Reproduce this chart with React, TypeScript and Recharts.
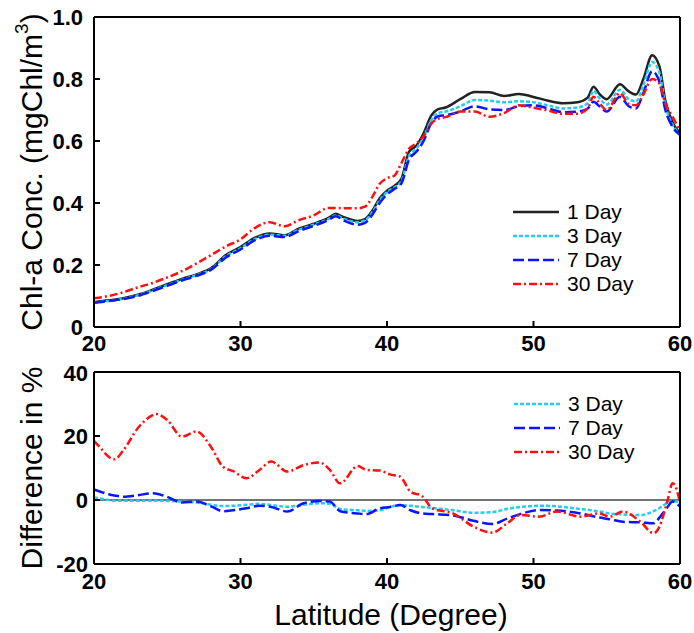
import { LineChart, Line, XAxis, YAxis, ReferenceLine, Legend } from 'recharts'

const FONT = '"Liberation Sans", Arial, Helvetica, sans-serif'

// top panel: chlorophyll concentration vs latitude
const concLat = [20, 21, 22, 23, 24, 25, 26, 27, 28, 29, 30, 31, 32, 33, 34, 35, 36, 36.5, 37, 38, 38.5, 39, 39.5, 40, 40.5, 41, 41.5, 42, 42.5, 43, 43.5, 44, 45, 46, 47, 48, 49, 50, 51, 52, 53, 53.7, 54.1, 54.5, 55, 55.9, 56.5, 57, 57.5, 58.1, 58.6, 59, 59.5, 60]
const conc1Day = [0.080, 0.086, 0.093, 0.104, 0.120, 0.138, 0.155, 0.170, 0.190, 0.232, 0.258, 0.288, 0.302, 0.296, 0.318, 0.333, 0.352, 0.365, 0.355, 0.342, 0.348, 0.375, 0.415, 0.440, 0.455, 0.480, 0.565, 0.585, 0.625, 0.680, 0.703, 0.708, 0.735, 0.758, 0.757, 0.745, 0.752, 0.742, 0.730, 0.722, 0.725, 0.740, 0.775, 0.752, 0.735, 0.783, 0.760, 0.750, 0.800, 0.877, 0.840, 0.730, 0.660, 0.625]
const conc3Day = [0.078, 0.084, 0.091, 0.102, 0.118, 0.135, 0.152, 0.167, 0.187, 0.228, 0.254, 0.284, 0.298, 0.294, 0.314, 0.330, 0.348, 0.360, 0.350, 0.338, 0.344, 0.370, 0.408, 0.435, 0.450, 0.472, 0.552, 0.575, 0.612, 0.665, 0.690, 0.695, 0.712, 0.732, 0.730, 0.725, 0.728, 0.725, 0.715, 0.705, 0.708, 0.722, 0.762, 0.738, 0.718, 0.765, 0.735, 0.728, 0.780, 0.855, 0.820, 0.715, 0.652, 0.620]
const conc7Day = [0.078, 0.084, 0.090, 0.100, 0.116, 0.133, 0.150, 0.165, 0.185, 0.224, 0.250, 0.280, 0.294, 0.290, 0.310, 0.326, 0.345, 0.357, 0.345, 0.330, 0.336, 0.362, 0.400, 0.428, 0.445, 0.465, 0.540, 0.565, 0.600, 0.655, 0.680, 0.683, 0.695, 0.712, 0.702, 0.700, 0.712, 0.715, 0.705, 0.693, 0.695, 0.705, 0.727, 0.712, 0.695, 0.743, 0.712, 0.705, 0.755, 0.825, 0.790, 0.700, 0.645, 0.620]
const conc30Day = [0.093, 0.100, 0.112, 0.128, 0.142, 0.160, 0.180, 0.205, 0.232, 0.260, 0.283, 0.320, 0.338, 0.325, 0.345, 0.360, 0.384, 0.384, 0.383, 0.383, 0.388, 0.420, 0.462, 0.480, 0.488, 0.530, 0.575, 0.592, 0.615, 0.655, 0.672, 0.677, 0.695, 0.695, 0.678, 0.690, 0.715, 0.707, 0.698, 0.688, 0.688, 0.705, 0.743, 0.722, 0.700, 0.754, 0.720, 0.715, 0.750, 0.800, 0.785, 0.720, 0.678, 0.632]

// bottom panel: difference from 1 Day in %
const diffLat = [20, 20.5, 21, 21.4, 22, 23, 24, 24.2, 25, 26, 27, 28, 28.8, 29.5, 30.4, 31.3, 32.1, 33.2, 34.3, 35.4, 36.1, 36.8, 38, 38.6, 39.5, 40.2, 40.9, 41.6, 42.4, 43.1, 44.5, 45.9, 47.2, 48.2, 49.1, 50.4, 51.6, 53.2, 54.5, 55.2, 56.1, 57.3, 58.2, 58.6, 59.1, 59.5, 59.7, 60]
const diff3Day = [0.8, 0.4, 0, -0.2, -0.2, -0.2, -0.2, -0.2, -0.3, -0.5, -0.8, -1.5, -1.9, -1.8, -1.5, -1.2, -1.6, -2.1, -1.5, -1.0, -1.2, -2.8, -3.2, -3.4, -3.2, -2.2, -1.6, -1.8, -2.2, -2.5, -3.2, -4.0, -3.8, -2.8, -2.2, -1.8, -2.0, -2.8, -3.6, -4.2, -4.5, -4.7, -3.5, -2.5, -1.0, -0.5, -0.5, -0.5]
const diff7Day = [3.3, 2.5, 1.8, 1.4, 1.0, 1.5, 2.1, 2.0, 1.0, -0.8, -0.5, -2.0, -3.5, -3.2, -2.6, -1.8, -2.2, -3.6, -1.0, -0.3, -0.5, -3.5, -4.2, -4.4, -2.6, -2.2, -1.6, -3.2, -4.2, -4.4, -4.8, -6.5, -7.5, -5.8, -4.4, -3.1, -3.3, -4.2, -5.5, -6.0, -6.8, -7.0, -7.3, -5.5, -2.5, -0.5, -0.8, -2.1]
const diff30Day = [18.5, 16, 13.5, 12.7, 15.5, 22.5, 26.5, 26.9, 25, 19.8, 21.4, 16.5, 10.4, 9.0, 6.8, 9.4, 12, 8.9, 10.9, 11.7, 9.4, 5.2, 10.6, 9.4, 9.2, 8.0, 7.3, 2.6, 1.2, -2.6, -4.2, -8.3, -10.2, -7.3, -4.7, -5.2, -3.6, -5.2, -4.2, -5.2, -3.6, -6.8, -10.4, -8.3, -1.0, 5.2, 4.2, -1.0]

const latTicks = [20, 30, 40, 50, 60]
const concTicks = [0, 0.2, 0.4, 0.6, 0.8, 1.0]
const diffTicks = [-20, 0, 20, 40]

const SERIES: Record<string, { name: string; color: string; dash?: string }> = {
  d1: { name: '1 Day', color: '#222222' },
  d3: { name: '3 Day', color: '#22CCF2', dash: '4 2' },
  d7: { name: '7 Day', color: '#0A14FF', dash: '11 4' },
  d30: { name: '30 Day', color: '#FF1010', dash: '8 3 2 3' },
}

const concData = concLat.map((lat, i) => ({ lat, d1: conc1Day[i], d3: conc3Day[i], d7: conc7Day[i], d30: conc30Day[i] }))
const diffData = diffLat.map((lat, i) => ({ lat, d3: diff3Day[i], d7: diff7Day[i], d30: diff30Day[i] }))

const frame = { stroke: '#000', strokeWidth: 2 }
const tickFont = { fontSize: 22, fill: '#000', fontFamily: FONT, fontWeight: 'bold' as const }

function LegendBox({ keys }: { keys: string[] }) {
  return (
    <div style={{ fontFamily: FONT, fontSize: 21, color: '#000' }}>
      {keys.map((k) => (
        <div key={k} style={{ display: 'flex', alignItems: 'center', height: 24 }}>
          <svg width={46} height={22} style={{ marginRight: 8 }}>
            <line x1={0} x2={46} y1={11} y2={11} stroke={SERIES[k].color} strokeWidth={2.5} strokeDasharray={SERIES[k].dash} />
          </svg>
          <span style={{ lineHeight: '22px' }}>{SERIES[k].name}</span>
        </div>
      ))}
    </div>
  )
}

function series(keys: string[]) {
  return keys.map((k) => (
    <Line
      key={k}
      type="monotone"
      dataKey={k}
      name={SERIES[k].name}
      stroke={SERIES[k].color}
      strokeWidth={2.5}
      strokeDasharray={SERIES[k].dash}
      dot={false}
      isAnimationActive={false}
    />
  ))
}

export default function App() {
  return (
    <div style={{ position: 'absolute', left: 0, top: 0, width: 694, height: 633, background: '#fff' }}>
      <div style={{ position: 'absolute', left: 0, top: 0 }}>
        <LineChart width={694} height={360} data={concData} margin={{ top: 0, right: 0, bottom: 0, left: 0 }}>
          <XAxis dataKey="lat" type="number" domain={[20, 60]} ticks={latTicks} height={33} tick={tickFont} tickSize={-6} tickMargin={14} axisLine={frame} tickLine={frame} />
          <XAxis xAxisId="top" orientation="top" dataKey="lat" type="number" domain={[20, 60]} ticks={latTicks} height={17} tick={false} tickSize={-6} axisLine={frame} tickLine={frame} />
          <YAxis
            domain={[0, 1]}
            ticks={concTicks}
            width={94}
            tick={tickFont}
            tickSize={-6}
            tickMargin={17}
            tickFormatter={(v: number) => (v === 0 ? '0' : v.toFixed(1))}
            axisLine={frame}
            tickLine={frame}
            label={{
              content: () => (
                <text x={31} y={172} transform="rotate(-90 31 172)" textAnchor="middle" dominantBaseline="central" fontFamily={FONT} fontSize={30} fill="#000">
                  Chl-a Conc. (mgChl/m<tspan dy={-10} fontSize={19}>3</tspan><tspan dy={10}>)</tspan>
                </text>
              ),
            }}
          />
          <YAxis yAxisId="r" orientation="right" domain={[0, 1]} ticks={concTicks} width={14} tick={false} tickSize={-6} axisLine={frame} tickLine={frame} />
          {series(['d1', 'd3', 'd7', 'd30'])}
          <Legend
            layout="vertical"
            verticalAlign="middle"
            align="center"
            content={() => <LegendBox keys={['d1', 'd3', 'd7', 'd30']} />}
            wrapperStyle={{ position: 'absolute', left: 513, top: 200, width: 'auto' }}
          />
        </LineChart>
      </div>
      <div style={{ position: 'absolute', left: 0, top: 360 }}>
        <LineChart width={694} height={273} data={diffData} margin={{ top: 0, right: 0, bottom: 0, left: 0 }}>
          <XAxis
            dataKey="lat"
            type="number"
            domain={[20, 60]}
            ticks={latTicks}
            height={69}
            tick={tickFont}
            tickSize={-6}
            tickMargin={15}
            axisLine={frame}
            tickLine={frame}
            label={{
              content: () => (
                <text x={391} y={265} textAnchor="middle" fontFamily={FONT} fontSize={30} fill="#000">
                  Latitude (Degree)
                </text>
              ),
            }}
          />
          <XAxis xAxisId="top" orientation="top" dataKey="lat" type="number" domain={[20, 60]} height={12} tick={false} tickLine={false} axisLine={frame} />
          <YAxis
            domain={[-20, 40]}
            ticks={diffTicks}
            width={94}
            tick={tickFont}
            tickSize={-6}
            tickMargin={12}
            axisLine={frame}
            tickLine={frame}
            label={{
              content: () => (
                <text x={31} y={108} transform="rotate(-90 31 108)" textAnchor="middle" dominantBaseline="central" fontFamily={FONT} fontSize={30} fill="#000">
                  Difference in %
                </text>
              ),
            }}
          />
          <YAxis yAxisId="r" orientation="right" domain={[-20, 40]} ticks={diffTicks} width={14} tick={false} tickSize={-6} axisLine={frame} tickLine={frame} />
          <ReferenceLine y={0} stroke="#444" strokeWidth={1.5} />
          {series(['d3', 'd7', 'd30'])}
          <Legend
            layout="vertical"
            verticalAlign="middle"
            align="center"
            content={() => <LegendBox keys={['d3', 'd7', 'd30']} />}
            wrapperStyle={{ position: 'absolute', left: 514, top: 32, width: 'auto' }}
          />
        </LineChart>
      </div>
    </div>
  )
}
